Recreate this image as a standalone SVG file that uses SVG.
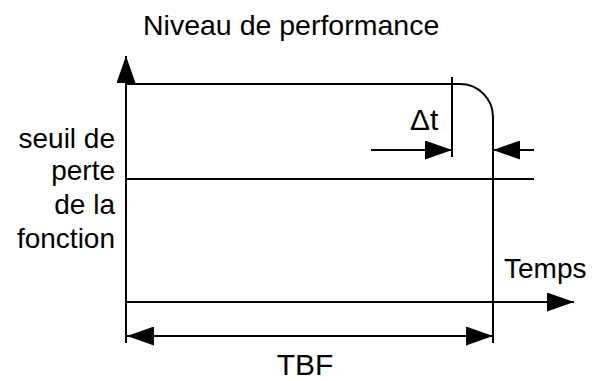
<svg xmlns="http://www.w3.org/2000/svg" width="599" height="381" viewBox="0 0 599 381">
  <style>
    .ln { fill: none; stroke: #000; stroke-width: 2; }
    .lbl { font-family: "Liberation Sans", Arial, sans-serif; font-size: 28px; fill: #000; }
  </style>
  <defs>
    <marker id="arrow" markerUnits="userSpaceOnUse" markerWidth="27" markerHeight="19" refX="27" refY="9.5" orient="auto-start-reverse" viewBox="0 0 27 19">
      <path d="M0,0 L27,9.5 L0,19 Z" fill="#000"/>
    </marker>
  </defs>

  <!-- axes and performance curve -->
  <g id="axes">
    <line class="ln" x1="126" y1="343" x2="126" y2="56" marker-end="url(#arrow)"/>
    <line class="ln" x1="126" y1="302" x2="574" y2="302" marker-end="url(#arrow)"/>
  </g>
  <g id="performance">
    <path class="ln" d="M126,84 H460 A33,33 0 0 1 493,117 V343"/>
  </g>
  <g id="seuil">
    <line class="ln" x1="126" y1="179" x2="534" y2="179"/>
  </g>

  <!-- dimension arrows -->
  <g id="connectors">
    <line class="ln" x1="452" y1="77" x2="452" y2="157"/>
    <line class="ln" x1="371" y1="150" x2="452" y2="150" marker-end="url(#arrow)"/>
    <line class="ln" x1="534" y1="150" x2="493" y2="150" marker-end="url(#arrow)"/>
    <line class="ln" x1="127" y1="336" x2="493" y2="336" marker-start="url(#arrow)" marker-end="url(#arrow)"/>
  </g>

  <!-- labels -->
  <g id="label-niveau">
    <text class="lbl" x="143" y="35" style="font-size:28.5px">Niveau de performance</text>
  </g>
  <g id="label-seuil">
    <text class="lbl" text-anchor="end" x="115" y="148">seuil de</text>
    <text class="lbl" text-anchor="end" x="115" y="180">perte</text>
    <text class="lbl" text-anchor="end" x="115" y="214">de la</text>
    <text class="lbl" text-anchor="end" x="115" y="248">fonction</text>
  </g>
  <g id="label-dt">
    <text class="lbl" x="410" y="130" style="font-size:30px">Δt</text>
  </g>
  <g id="label-temps">
    <text class="lbl" x="504" y="278">Temps</text>
  </g>
  <g id="label-tbf">
    <text class="lbl" text-anchor="middle" x="305" y="375" style="font-size:30px">TBF</text>
  </g>
</svg>
